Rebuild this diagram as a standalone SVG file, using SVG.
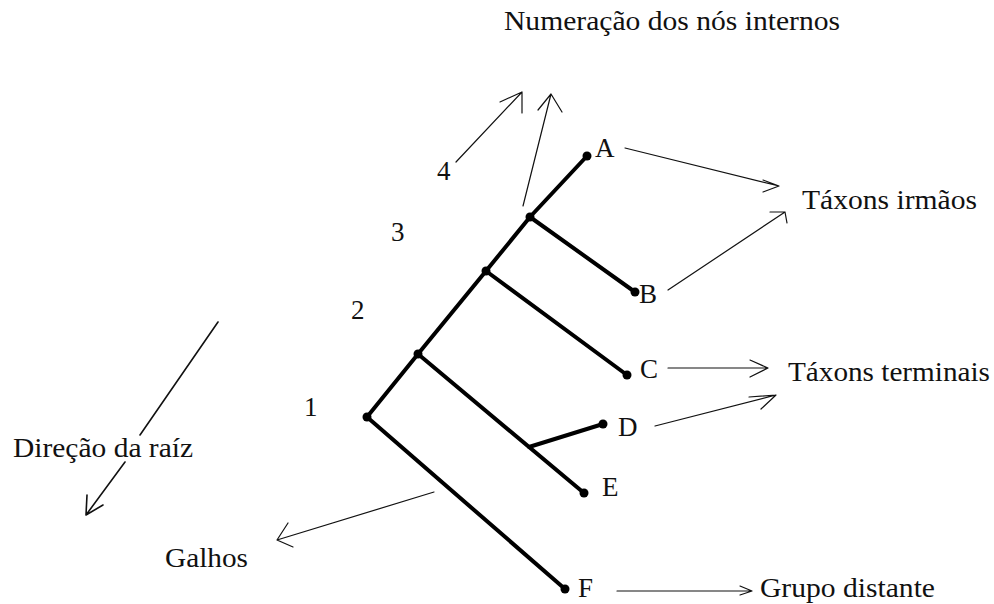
<svg xmlns="http://www.w3.org/2000/svg" width="994" height="604" viewBox="0 0 994 604">
<style>
text{font-family:"Liberation Serif","Times New Roman",serif;font-size:27px;fill:#111}
.br{stroke:#000;stroke-width:4;fill:none;stroke-linecap:round;stroke-linejoin:round}
.th{stroke:#111;stroke-width:1.2;fill:none;stroke-linecap:round;stroke-linejoin:round}
.dot{fill:#000}
</style>
<rect width="994" height="604" fill="#fff"/>
<g id="tree">
<polyline class="br" points="367,417 418,354 486,271 530,217 587,156"/>
<line class="br" x1="530" y1="217" x2="635" y2="292"/>
<line class="br" x1="486" y1="271" x2="627" y2="375"/>
<line class="br" x1="418" y1="354" x2="584" y2="493"/>
<line class="br" x1="529" y1="447" x2="603" y2="424"/>
<line class="br" x1="367" y1="417" x2="565" y2="589"/>
</g>
<g id="node-1"><circle class="dot" cx="367" cy="417" r="4.5"/><text x="304" y="416">1</text></g>
<g id="node-2"><circle class="dot" cx="418" cy="354" r="4.5"/><text x="351" y="319">2</text></g>
<g id="node-3"><circle class="dot" cx="486" cy="271" r="4.5"/><text x="391" y="241">3</text></g>
<g id="node-4"><circle class="dot" cx="530" cy="217" r="4.5"/><text x="437" y="180">4</text></g>
<g id="node-A"><circle class="dot" cx="587" cy="156" r="4.5"/><text x="595" y="157">A</text></g>
<g id="node-B"><circle class="dot" cx="635" cy="292" r="4.5"/><text x="639" y="303">B</text></g>
<g id="node-C"><circle class="dot" cx="627" cy="375" r="4.5"/><text x="640" y="378">C</text></g>
<g id="node-D"><circle class="dot" cx="603" cy="424" r="4.5"/><text x="618" y="436">D</text></g>
<g id="node-E"><circle class="dot" cx="584" cy="493" r="4.5"/><text x="602" y="496">E</text></g>
<g id="node-F"><circle class="dot" cx="565" cy="589" r="4.5"/><text x="578" y="597">F</text></g>
<g id="label-numeracao"><text x="504" y="30" textLength="336" lengthAdjust="spacingAndGlyphs">Numeração dos nós internos</text></g>
<g id="label-irmaos"><text x="802" y="209" textLength="175" lengthAdjust="spacingAndGlyphs">Táxons irmãos</text></g>
<g id="label-terminais"><text x="788" y="381" textLength="202" lengthAdjust="spacingAndGlyphs">Táxons terminais</text></g>
<g id="label-grupo"><text x="760" y="597" textLength="175" lengthAdjust="spacingAndGlyphs">Grupo distante</text></g>
<g id="label-direcao"><text x="13" y="457" textLength="180" lengthAdjust="spacingAndGlyphs">Direção da raíz</text></g>
<g id="label-galhos"><text x="165" y="567" textLength="83" lengthAdjust="spacingAndGlyphs">Galhos</text></g>
<g id="connectors">
<path class="th" d="M456,162 L522,92 M500,102 L522,92 L522,113"/>
<path class="th" d="M523,206 L551,94 M538,110 L551,94 L562,112"/>
<path class="th" d="M625,148 L779,186 M763,180 L779,186 L763,192"/>
<path class="th" d="M668,290 L785,212 M770,212 L785,212 L787,223"/>
<path class="th" d="M668,368 L768,368 M750,360 L768,368 L750,377"/>
<path class="th" d="M655,426 L776,395 M749,397 L776,395 L761,409"/>
<path class="th" d="M434,492 L277,540 M288,523 L277,540 L293,547"/>
<path class="th" d="M617,591 L752,591 M740,586 L752,591 L740,595"/>
<path class="th" style="stroke-width:1.6" d="M218,322 L140,435 M125,462 L86,515 M87,495 L86,515 L103,505"/>
</g>
</svg>
